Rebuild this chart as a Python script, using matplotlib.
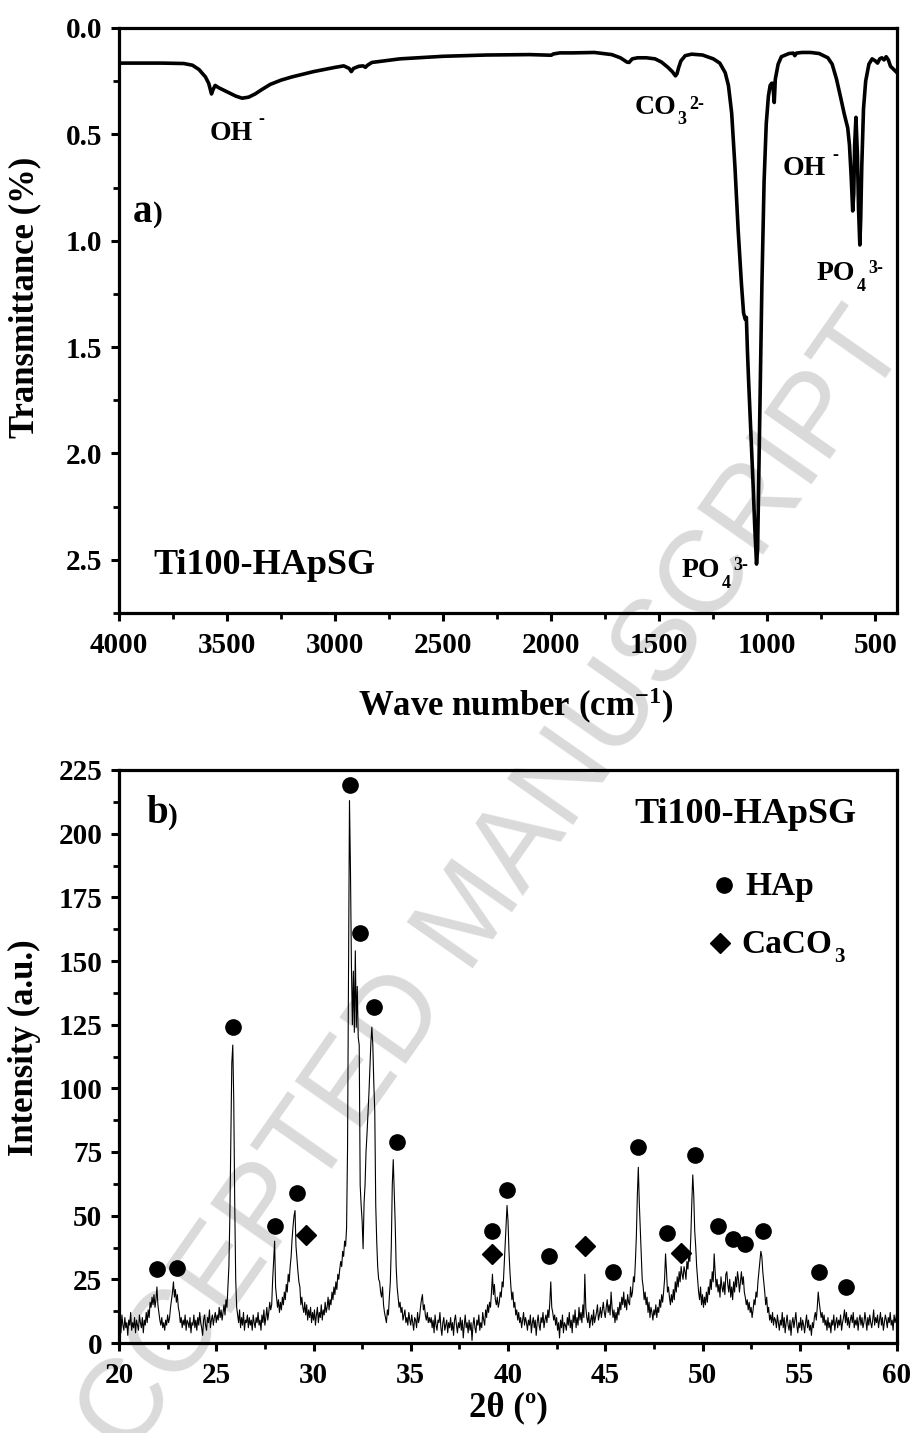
import numpy as np
import matplotlib.pyplot as plt
from matplotlib.ticker import MultipleLocator

plt.rcParams['font.family'] = ['Liberation Serif', 'DejaVu Serif']
plt.rcParams['font.weight'] = 'bold'
plt.rcParams['mathtext.fontset'] = 'custom'
plt.rcParams['mathtext.rm'] = 'Liberation Serif:bold'
plt.rcParams['mathtext.bf'] = 'Liberation Serif:bold'
plt.rcParams['mathtext.default'] = 'bf'

# --- a) FTIR spectrum (read off the figure) ---
ftir_wn = [4000, 3800, 3700, 3660, 3630, 3600, 3585, 3572, 3565, 3555, 3540, 3500,
           3460, 3430, 3400, 3370, 3340, 3300, 3250, 3200, 3100, 3000, 2960, 2935,
           2925, 2915, 2890, 2870, 2860, 2850, 2830, 2700, 2500, 2300, 2100, 2000,
           1990, 1960, 1900, 1800, 1720, 1680, 1650, 1640, 1625, 1600, 1560, 1520,
           1490, 1460, 1440, 1425, 1418, 1410, 1400, 1380, 1350, 1300, 1250, 1220,
           1195, 1180, 1165, 1150, 1135, 1120, 1110, 1102, 1097, 1092, 1087, 1077,
           1067, 1058, 1050, 1045, 1040, 1033, 1025, 1015, 1005, 995, 987, 980,
           975, 968, 963, 950, 935, 900, 880, 873, 865, 840, 800, 760, 720, 700,
           680, 660, 645, 635, 628, 620, 612, 605, 600, 596, 590, 583, 578, 572,
           568, 563, 555, 545, 530, 515, 500, 490, 480, 470, 460, 450, 440, 430,
           420, 410, 400]
ftir_t = [0.165, 0.165, 0.167, 0.175, 0.195, 0.23, 0.26, 0.31, 0.29, 0.27, 0.28, 0.30,
          0.32, 0.33, 0.325, 0.31, 0.29, 0.265, 0.245, 0.23, 0.205, 0.185, 0.178, 0.19,
          0.205, 0.19, 0.18, 0.178, 0.185, 0.175, 0.162, 0.145, 0.133, 0.127, 0.125, 0.128,
          0.122, 0.117, 0.117, 0.115, 0.125, 0.14, 0.16, 0.162, 0.145, 0.14, 0.14, 0.145,
          0.16, 0.185, 0.205, 0.225, 0.215, 0.185, 0.155, 0.13, 0.123, 0.127, 0.145, 0.165,
          0.21, 0.27, 0.40, 0.65, 0.95, 1.20, 1.34, 1.37, 1.36, 1.52, 1.65, 1.88,
          2.12, 2.35, 2.52, 2.45, 2.15, 1.70, 1.20, 0.72, 0.45, 0.32, 0.27, 0.26,
          0.26, 0.35, 0.24, 0.17, 0.135, 0.12, 0.118, 0.13, 0.118, 0.115, 0.115, 0.12, 0.14, 0.17,
          0.24, 0.33, 0.40, 0.44, 0.47, 0.55, 0.70, 0.86, 0.78, 0.55, 0.42, 0.60, 0.85, 1.02,
          0.90, 0.65, 0.38, 0.25, 0.17, 0.145, 0.155, 0.165, 0.145, 0.14, 0.15, 0.135, 0.15, 0.18,
          0.19, 0.20, 0.21]

# --- b) XRD pattern, 20-60 deg in 0.05 deg steps (one row per degree) ---
scan_start, scan_step = 20.0, 0.05
xrd_counts = [
    6, 9, 4, 11, 7, 5, 10, 6, 8, 3, 9, 7, 12, 5, 8, 6, 10, 4, 9, 7,               # 20
    5, 11, 8, 6, 10, 4, 9, 7, 12, 8, 13, 10, 16, 14, 18, 15, 19, 14, 17, 22,      # 21
    15, 12, 9, 7, 10, 6, 8, 5, 9, 7, 11, 8, 10, 14, 17, 20, 24, 18, 21, 16,       # 22
    19, 14, 12, 8, 10, 6, 9, 7, 11, 5, 9, 8, 6, 10, 4, 8, 7, 11, 6, 9,            # 23
    5, 10, 7, 12, 8, 6, 3, 9, 11, 7, 5, 10, 8, 13, 6, 9, 11, 7, 10, 12,           # 24
    8, 11, 9, 14, 10, 13, 9, 12, 15, 11, 17, 14, 22, 30, 50, 80, 110, 117, 95, 55,  # 25
    25, 14, 11, 8, 13, 6, 10, 7, 12, 5, 9, 8, 11, 6, 10, 7, 9, 5, 11, 8,          # 26
    6, 10, 8, 12, 7, 9, 5, 11, 8, 13, 7, 10, 14, 9, 12, 16, 13, 15, 25, 32,       # 27
    40, 22, 18, 14, 17, 12, 16, 13, 18, 15, 20, 17, 23, 20, 27, 24, 30, 34, 41, 46,  # 28
    50, 52, 38, 33, 28, 24, 22, 15, 18, 14, 12, 16, 11, 15, 9, 13, 10, 14, 8, 12,  # 29
    9, 13, 7, 11, 14, 8, 12, 10, 15, 9, 13, 11, 16, 12, 14, 18, 13, 17, 15, 20,   # 30
    17, 22, 19, 24, 21, 27, 25, 29, 32, 30, 36, 34, 40, 38, 45, 76, 148, 213, 186, 148,  # 31
    125, 146, 122, 154, 124, 140, 120, 117, 62, 54, 48, 37, 55, 62, 75, 82, 90, 98, 108, 118,  # 32
    124, 117, 102, 91, 54, 40, 30, 25, 24, 20, 18, 22, 15, 12, 10, 8, 13, 11, 18, 24,  # 33
    38, 62, 72, 60, 47, 30, 22, 18, 14, 16, 12, 14, 9, 11, 13, 8, 10, 7, 12, 9,   # 34
    7, 11, 8, 5, 10, 9, 6, 12, 8, 10, 14, 17, 19, 13, 15, 11, 9, 12, 8, 10,       # 35
    8, 10, 6, 9, 4, 11, 7, 5, 9, 8, 12, 6, 3, 8, 10, 5, 7, 9, 4, 8,               # 36
    6, 10, 5, 8, 3, 9, 11, 7, 4, 8, 6, 10, 5, 9, 2, 7, 11, 6, 8, 4,               # 37
    9, 5, 8, 1, 7, 10, 6, 4, 9, 7, 11, 5, 8, 6, 12, 9, 7, 13, 10, 15,             # 38
    12, 16, 14, 20, 27, 19, 23, 17, 15, 18, 14, 16, 20, 18, 24, 22, 30, 38, 46, 54,  # 39
    48, 36, 28, 22, 17, 20, 14, 16, 11, 13, 9, 12, 8, 10, 6, 9, 12, 7, 10, 8,     # 40
    5, 9, 7, 11, 4, 8, 10, 6, 9, 3, 8, 11, 7, 5, 10, 8, 12, 6, 9, 11,             # 41
    8, 13, 10, 16, 24, 14, 12, 9, 11, 7, 10, 5, 8, 2, 9, 6, 11, 4, 8, 7,          # 42
    5, 10, 7, 12, 6, 9, 4, 11, 8, 13, 6, 10, 7, 14, 9, 12, 8, 15, 10, 27,         # 43
    14, 10, 8, 12, 6, 9, 11, 7, 13, 8, 10, 12, 15, 9, 11, 14, 10, 13, 16, 12,     # 44
    10, 14, 17, 12, 15, 11, 20, 14, 10, 13, 8, 12, 9, 14, 11, 16, 13, 18, 15, 20,  # 45
    14, 17, 13, 19, 16, 15, 22, 18, 20, 26, 24, 32, 42, 58, 69, 55, 45, 35, 25, 22,  # 46
    17, 20, 15, 18, 12, 16, 10, 14, 12, 9, 13, 11, 15, 10, 14, 12, 17, 14, 19, 16,  # 47
    20, 25, 35, 28, 20, 22, 18, 15, 19, 16, 21, 17, 24, 20, 26, 22, 28, 24, 30, 27,  # 48
    25, 30, 28, 25, 32, 29, 35, 32, 42, 55, 66, 58, 44, 38, 30, 25, 20, 17, 22, 15,  # 49
    19, 14, 18, 15, 20, 16, 22, 19, 25, 21, 28, 24, 35, 28, 22, 25, 20, 23, 18, 26,  # 50
    22, 20, 24, 19, 27, 28, 23, 20, 25, 18, 22, 17, 24, 20, 26, 22, 28, 25, 20, 24,  # 51
    28, 23, 26, 20, 18, 15, 17, 13, 16, 12, 14, 10, 13, 17, 15, 20, 18, 24, 28, 32,  # 52
    36, 34, 28, 24, 20, 15, 18, 12, 14, 9, 11, 8, 12, 7, 10, 9, 6, 11, 8, 5,      # 53
    9, 7, 12, 6, 10, 4, 8, 11, 7, 5, 9, 3, 8, 10, 6, 9, 12, 7, 4, 8,              # 54
    6, 10, 5, 9, 7, 4, 8, 11, 6, 9, 5, 7, 3, 8, 6, 10, 12, 9, 14, 20,             # 55
    16, 13, 10, 12, 8, 11, 7, 9, 5, 10, 6, 8, 4, 9, 7, 11, 5, 8, 10, 6,           # 56
    9, 7, 11, 5, 8, 10, 13, 8, 12, 7, 10, 6, 9, 11, 8, 12, 6, 9, 7, 10,           # 57
    5, 9, 11, 7, 10, 6, 8, 12, 9, 5, 10, 7, 11, 8, 6, 9, 13, 7, 10, 8,            # 58
    11, 6, 9, 12, 7, 10, 5, 8, 11, 9, 6, 10, 8, 12, 7, 9, 5, 11, 8, 10,           # 59
    13]
two_theta = scan_start + scan_step * np.arange(len(xrd_counts))

hap_pos = [21.95, 22.98, 25.88, 28.0, 29.13, 31.89, 32.37, 33.1, 34.27, 39.17, 39.95,
           42.1, 45.4, 46.7, 48.2, 49.6, 50.8, 51.55, 52.2, 53.1, 56.0, 57.4]
hap_int = [29, 29.5, 124, 46, 59, 219, 161, 132, 79, 44, 60,
           34, 28, 77, 43, 74, 46, 41, 39, 44, 28, 22]
caco3_pos = [29.64, 39.2, 43.95, 48.9]
caco3_int = [42.5, 35, 38, 35.5]

W, H = 912, 1433
fig = plt.figure(figsize=(W / 100, H / 100), dpi=100)


def px_axes(l, t, r, b):
    return fig.add_axes([l / W, 1 - b / H, (r - l) / W, (b - t) / H])


def style(ax):
    ax.set_facecolor('none')
    for s in ax.spines.values():
        s.set_linewidth(2.3)
    ax.tick_params(which='major', direction='out', length=6, width=2.2, labelsize=21)
    ax.tick_params(which='minor', direction='out', length=4, width=2.0)
    ax.tick_params(axis='x', which='major', pad=8)
    ax.tick_params(axis='y', which='major', pad=6)
    for lab in ax.get_xticklabels() + ax.get_yticklabels():
        lab.set_fontweight('bold')


def ion(ax, x, y, base, sub='', sup='', size=20, small=13, sub_dy=-8, sup_dy=5, gap=2):
    t = ax.text(x, y, base, fontsize=size, ha='left', va='baseline')
    anchor = t
    if sub:
        anchor = ax.annotate(sub, xy=(1, y), xycoords=(t, 'data'), xytext=(1, sub_dy),
                             textcoords='offset points', fontsize=small, va='baseline')
    if sup:
        ax.annotate(sup, xy=(1, y), xycoords=(anchor, 'data'), xytext=(gap, sup_dy),
                    textcoords='offset points', fontsize=small, va='baseline')
    return t


# ---------------- a) FTIR ----------------
ax1 = px_axes(119, 28, 897, 613)
ax1.plot(ftir_wn, ftir_t, color='black', lw=2.6, solid_joinstyle='round')
ax1.set_xlim(4000, 400)
ax1.set_ylim(2.75, 0)
ax1.xaxis.set_major_locator(MultipleLocator(500))
ax1.xaxis.set_minor_locator(MultipleLocator(250))
ax1.yaxis.set_major_locator(MultipleLocator(0.5))
ax1.yaxis.set_minor_locator(MultipleLocator(0.25))
ax1.yaxis.set_major_formatter(plt.FormatStrFormatter('%.1f'))
style(ax1)
ax1.set_xlabel('Wave number (cm$^{-1}$)', fontsize=25, fontweight='bold')
ax1.set_ylabel('Transmittance (%)', fontsize=25, fontweight='bold')
ax1.xaxis.set_label_coords(0.51, -0.125)
ax1.yaxis.set_label_coords(-0.1, 0.54)

ion(ax1, 3581, 0.525, 'OH', sup='-', sup_dy=11, gap=4)
ion(ax1, 1616, 0.405, 'CO', sub='3', sup='2-', sub_dy=-7, sup_dy=4)
ion(ax1, 927, 0.693, 'OH', sup='-', sup_dy=11, gap=4)
ion(ax1, 770, 1.183, 'PO', sub='4', sup='3-')
ion(ax1, 1395, 2.58, 'PO', sub='4', sup='3-')
ta = ax1.text(3935, 0.91, 'a', fontsize=28, ha='left', va='baseline')
ax1.annotate(')', xy=(1, 0.91), xycoords=(ta, 'data'), xytext=(0, 0),
             textcoords='offset points', fontsize=21, va='baseline')
ax1.text(3843, 2.566, 'Ti100-HApSG', fontsize=26, ha='left', va='baseline')

# ---------------- b) XRD ----------------
ax2 = px_axes(119, 770, 897, 1343)
ax2.plot(two_theta, xrd_counts, color='black', lw=0.8)
ax2.plot(hap_pos, hap_int, 'o', color='black', ms=11, ls='none')
ax2.plot(caco3_pos, caco3_int, 'D', color='black', ms=10, ls='none')
ax2.set_xlim(20, 60)
ax2.set_ylim(0, 225)
ax2.xaxis.set_major_locator(MultipleLocator(5))
ax2.xaxis.set_minor_locator(MultipleLocator(2.5))
ax2.yaxis.set_major_locator(MultipleLocator(25))
ax2.yaxis.set_minor_locator(MultipleLocator(12.5))
style(ax2)
ax2.set_xlabel('2θ (º)', fontsize=25, fontweight='bold')
ax2.set_ylabel('Intensity (a.u.)', fontsize=25, fontweight='bold')
ax2.xaxis.set_label_coords(0.5, -0.085)
ax2.yaxis.set_label_coords(-0.1, 0.515)

tb = ax2.text(21.39, 204, 'b', fontsize=28, ha='left', va='baseline')
ax2.annotate(')', xy=(1, 204), xycoords=(tb, 'data'), xytext=(0, 0),
             textcoords='offset points', fontsize=21, va='baseline')
ax2.text(46.5, 204, 'Ti100-HApSG', fontsize=26, ha='left', va='baseline')
ax2.plot([51.1], [180], 'o', color='black', ms=11)
ax2.text(52.2, 176, 'HAp', fontsize=24, ha='left', va='baseline')
ax2.plot([50.9], [157], 'D', color='black', ms=10)
ion(ax2, 52.0, 153, 'CaCO', sub='3', size=24, small=15, sub_dy=-6)

fig.text(0.518, 0.361, 'ACCEPTED MANUSCRIPT', rotation=55, fontsize=84,
         family='Liberation Sans', fontweight='normal', color='#dadada',
         ha='center', va='center', zorder=-1)

fig.savefig('out.png', dpi=100)
